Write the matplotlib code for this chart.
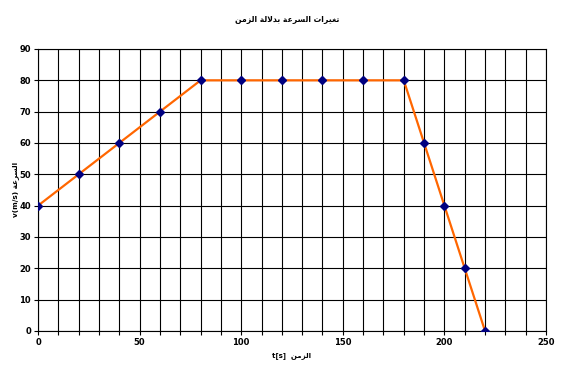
"""Speed vs time chart."""
import matplotlib
matplotlib.use('Agg')
import matplotlib.pyplot as plt
from matplotlib.ticker import MultipleLocator, FuncFormatter

# data
time_s = [0, 20, 40, 60, 80, 100, 120, 140, 160, 180, 190, 200, 210, 220]
speed = [40, 50, 60, 70, 80, 80, 80, 80, 80, 80, 60, 40, 20, 0]

# Arabic text written with presentation forms (logical order), reversed for display
title_ar = ('\uFE97\uFED0\uFEF4\uFEAE\uFE8D\uFE95 '
            '\uFE8D\uFEDF\uFEB4\uFEAE\uFECB\uFE94 '
            '\uFE91\uFEAA\uFEFB\uFEDF\uFE94 '
            '\uFE8D\uFEDF\uFEB0\uFEE3\uFEE6')
speed_ar = '\uFE8D\uFEDF\uFEB4\uFEAE\uFECB\uFE94'
time_ar = '\uFE8D\uFEDF\uFEB0\uFEE3\uFEE6'


def visual(s: str) -> str:
    return s[::-1]


plt.rcParams['font.family'] = ['DejaVu Sans']
fig = plt.figure(figsize=(5.64, 3.76), dpi=100)
ax = fig.add_axes([38 / 564, 1 - 331 / 376, 508 / 564, 282 / 376])

ax.plot(time_s, speed, color='#FF6600', lw=1.6, zorder=3,
        marker='D', markersize=4.5, markerfacecolor='#000080',
        markeredgecolor='#000080')

ax.set_xlim(0, 250)
ax.set_ylim(0, 90)
ax.xaxis.set_major_locator(MultipleLocator(10))
ax.yaxis.set_major_locator(MultipleLocator(10))
ax.xaxis.set_major_formatter(
    FuncFormatter(lambda v, _: f'{v:.0f}' if round(v) % 50 == 0 else ''))
ax.grid(True, color='black', lw=0.8)
ax.set_axisbelow(True)
for s in ax.spines.values():
    s.set_color('black')
    s.set_linewidth(0.8)
ax.tick_params(direction='out', length=3, width=0.8, labelsize=6,
               pad=2)
for lab in ax.get_xticklabels() + ax.get_yticklabels():
    lab.set_fontweight('bold')

fig.text(287 / 564, 1 - 20 / 376, visual(title_ar), ha='center',
         va='center', fontsize=5.5, fontweight='bold')
fig.text(291 / 564, 1 - 356 / 376, 't[s]  ' + visual(time_ar),
         ha='center', va='center', fontsize=5, fontweight='bold')
fig.text(16 / 564, 1 - 189 / 376, 'v(m/s) ' + visual(speed_ar),
         ha='center', va='center', rotation=90, fontsize=5.2,
         fontweight='bold')

fig.savefig('out.png', dpi=100, facecolor='white')
